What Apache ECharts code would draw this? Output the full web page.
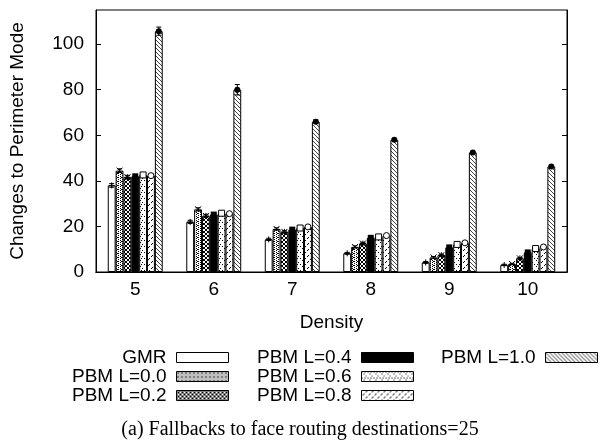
<!DOCTYPE html>
<html>
<head>
<meta charset="utf-8">
<script src="https://cdn.jsdelivr.net/npm/echarts@6/dist/echarts.min.js"></script>
<style>html,body{margin:0;padding:0;background:#fff}#c{width:600px;height:443px}</style>
</head>
<body>
<div id="c"></div>
<script>
const categories = ['5', '6', '7', '8', '9', '10'];
const seriesNames = ['GMR', 'PBM L=0.0', 'PBM L=0.2', 'PBM L=0.4', 'PBM L=0.6', 'PBM L=0.8', 'PBM L=1.0'];
const gmr   = [38.0, 22.0, 14.3, 8.2, 4.2, 3.1];
const pbm00 = [44.5, 27.5, 18.9, 11.0, 6.4, 3.5];
const pbm02 = [41.6, 24.6, 17.6, 12.5, 7.4, 6.0];
const pbm04 = [42.0, 25.2, 18.6, 15.0, 10.8, 8.6];
const pbm06 = [42.6, 25.8, 19.3, 15.4, 12.1, 10.3];
const pbm08 = [42.3, 25.6, 19.8, 16.0, 12.8, 11.0];
const pbm10 = [105.7, 80.0, 66.0, 58.0, 52.5, 46.3];
const gmrErr   = [0.8, 0.7, 0.5, 0.4, 0.4, 0.3];
const pbm00Err = [0.8, 0.7, 0.5, 0.5, 0.4, 0.3];
const pbm02Err = [0.8, 0.7, 0.5, 0.5, 0.4, 0.4];
const pbm04Err = [0.8, 0.7, 0.5, 0.5, 0.4, 0.4];
const pbm06Err = [0.8, 0.7, 0.5, 0.5, 0.4, 0.4];
const pbm08Err = [0.8, 0.7, 0.5, 0.5, 0.4, 0.4];
const pbm10Err = [1.8, 2.3, 0.8, 0.6, 0.5, 0.5];
const yTicks = [0, 20, 40, 60, 80, 100];

const values = [gmr, pbm00, pbm02, pbm04, pbm06, pbm08, pbm10];
const errors = [gmrErr, pbm00Err, pbm02Err, pbm04Err, pbm06Err, pbm08Err, pbm10Err];

function pattern(size, pixels, color) {
  const c = document.createElement('canvas');
  c.width = size; c.height = size;
  const ctx = c.getContext('2d');
  ctx.fillStyle = '#fff';
  ctx.fillRect(0, 0, size, size);
  ctx.fillStyle = color || '#000';
  pixels.forEach(p => ctx.fillRect(p[0], p[1], 1, 1));
  return { image: c, repeat: 'repeat' };
}
const fills = [
  '#ffffff',
  pattern(4, [[0,0],[2,1],[0,2],[2,3],[1,1]]),
  pattern(4, [[0,0],[1,1],[2,2],[3,3],[3,0],[2,1],[1,2],[0,3]]),
  '#000000',
  pattern(6, [[0,0],[2,2],[4,4],[3,0]]),
  pattern(6, [[5,0],[4,1],[2,3],[1,4]]),
  pattern(4, [[0,0],[1,1],[2,2],[3,3]], '#444')
];

const barGapRatio = 0.3;
function makeRender(si) {
  return function (params, api) {
    const cat = api.value(0), v = api.value(1), e = api.value(2);
    const band = api.size([1, 0])[0];
    const bw = band * (1 - barGapRatio) / 7;
    const c = api.coord([cat, v]);
    const x = c[0] + (si - 3) * bw;
    const top = api.coord([cat, v + e])[1];
    const bot = api.coord([cat, v - e])[1];
    const y = c[1];
    const st = { stroke: '#000', lineWidth: 1 };
    const ch = [
      { type: 'line', shape: { x1: x, y1: top, x2: x, y2: bot }, style: st },
      { type: 'line', shape: { x1: x - 2.5, y1: top, x2: x + 2.5, y2: top }, style: st },
      { type: 'line', shape: { x1: x - 2.5, y1: bot, x2: x + 2.5, y2: bot }, style: st }
    ];
    const h = 3;
    if (si === 0 || si === 2) {
      ch.push({ type: 'line', shape: { x1: x - h, y1: y, x2: x + h, y2: y }, style: st });
      ch.push({ type: 'line', shape: { x1: x, y1: y - h, x2: x, y2: y + h }, style: st });
    }
    if (si === 1 || si === 2) {
      ch.push({ type: 'line', shape: { x1: x - h, y1: y - h, x2: x + h, y2: y + h }, style: st });
      ch.push({ type: 'line', shape: { x1: x - h, y1: y + h, x2: x + h, y2: y - h }, style: st });
    }
    if (si === 3) ch.push({ type: 'rect', shape: { x: x - h, y: y - h, width: 2 * h, height: 2 * h }, style: { fill: '#000' } });
    if (si === 4) ch.push({ type: 'rect', shape: { x: x - h, y: y - h, width: 2 * h, height: 2 * h }, style: { fill: '#fff', stroke: '#000', lineWidth: 1 } });
    if (si === 5) ch.push({ type: 'circle', shape: { cx: x, cy: y, r: h }, style: { fill: '#fff', stroke: '#000', lineWidth: 1 } });
    if (si === 6) ch.push({ type: 'circle', shape: { cx: x, cy: y, r: h }, style: { fill: '#000' } });
    return { type: 'group', children: ch };
  };
}

const series = [];
seriesNames.forEach((name, si) => {
  series.push({
    name: name, type: 'bar', data: values[si],
    barGap: 0, barCategoryGap: (barGapRatio * 100) + '%',
    itemStyle: { color: fills[si], borderColor: '#000', borderWidth: 1 },
    emphasis: { disabled: true }, animation: false
  });
});
seriesNames.forEach((name, si) => {
  series.push({
    name: 'err' + si, type: 'custom', z: 5,
    data: values[si].map((v, i) => [i, v, errors[si][i]]),
    renderItem: makeRender(si), animation: false, silent: true
  });
});

const font = 'Liberation Sans, Arial, Helvetica, sans-serif';
const legendBase = {
  orient: 'vertical', align: 'right', top: 348, itemWidth: 52, itemHeight: 10, itemGap: 0, padding: 0,
  icon: 'rect', selectedMode: false,
  textStyle: { fontSize: 19, fontFamily: font, color: '#000', padding: [0, 5, 0, 0] },
  itemStyle: { borderColor: '#000', borderWidth: 1 }
};

const chart = echarts.init(document.getElementById('c'), null, { renderer: 'canvas' });
chart.setOption({
  animation: false,
  backgroundColor: '#fff',
  title: {
    text: '(a) Fallbacks to face routing destinations=25',
    left: 'center', top: 420, padding: 0,
    textStyle: { fontFamily: 'Liberation Serif, Times New Roman, serif', fontWeight: 'normal', fontSize: 20, color: '#000' }
  },
  grid: { left: 96, right: 33, top: 10, bottom: 171, show: true, borderColor: '#000', borderWidth: 1, containLabel: false },
  legend: [
    Object.assign({}, legendBase, { data: seriesNames.slice(0, 3), right: 371 }),
    Object.assign({}, legendBase, { data: seriesNames.slice(3, 6), right: 186 }),
    Object.assign({}, legendBase, { data: seriesNames.slice(6, 7), right: 2 })
  ],
  xAxis: [{
    type: 'category', data: categories, position: 'bottom',
    name: 'Density', nameLocation: 'middle', nameGap: 41,
    nameTextStyle: { fontSize: 19, fontFamily: font, color: '#000' },
    axisLine: { lineStyle: { color: '#000' } },
    axisTick: { inside: true, alignWithLabel: true, length: 5, lineStyle: { color: '#000' } },
    axisLabel: { fontSize: 19, fontFamily: font, color: '#000', margin: 8 },
    splitLine: { show: false }
  }, {
    type: 'category', data: categories, position: 'top',
    axisLine: { lineStyle: { color: '#000' } },
    axisTick: { inside: true, alignWithLabel: true, length: 5, lineStyle: { color: '#000' } },
    axisLabel: { show: false }, splitLine: { show: false }
  }],
  yAxis: [{
    type: 'value', min: 0, max: 115, interval: 20, position: 'left',
    name: 'Changes to Perimeter Mode', nameLocation: 'middle', nameGap: 69,
    nameTextStyle: { fontSize: 19, fontFamily: font, color: '#000' },
    axisLine: { show: true, lineStyle: { color: '#000' } },
    axisTick: { show: true, inside: true, length: 5, lineStyle: { color: '#000' }, customValues: yTicks },
    axisLabel: { fontSize: 19, fontFamily: font, color: '#000', margin: 12, customValues: yTicks },
    splitLine: { show: false }
  }, {
    type: 'value', min: 0, max: 115, interval: 20, position: 'right',
    axisLine: { show: true, lineStyle: { color: '#000' } },
    axisTick: { show: true, inside: true, length: 5, lineStyle: { color: '#000' }, customValues: yTicks },
    axisLabel: { show: false }, splitLine: { show: false }
  }],
  series: series
});
</script>
</body>
</html>
